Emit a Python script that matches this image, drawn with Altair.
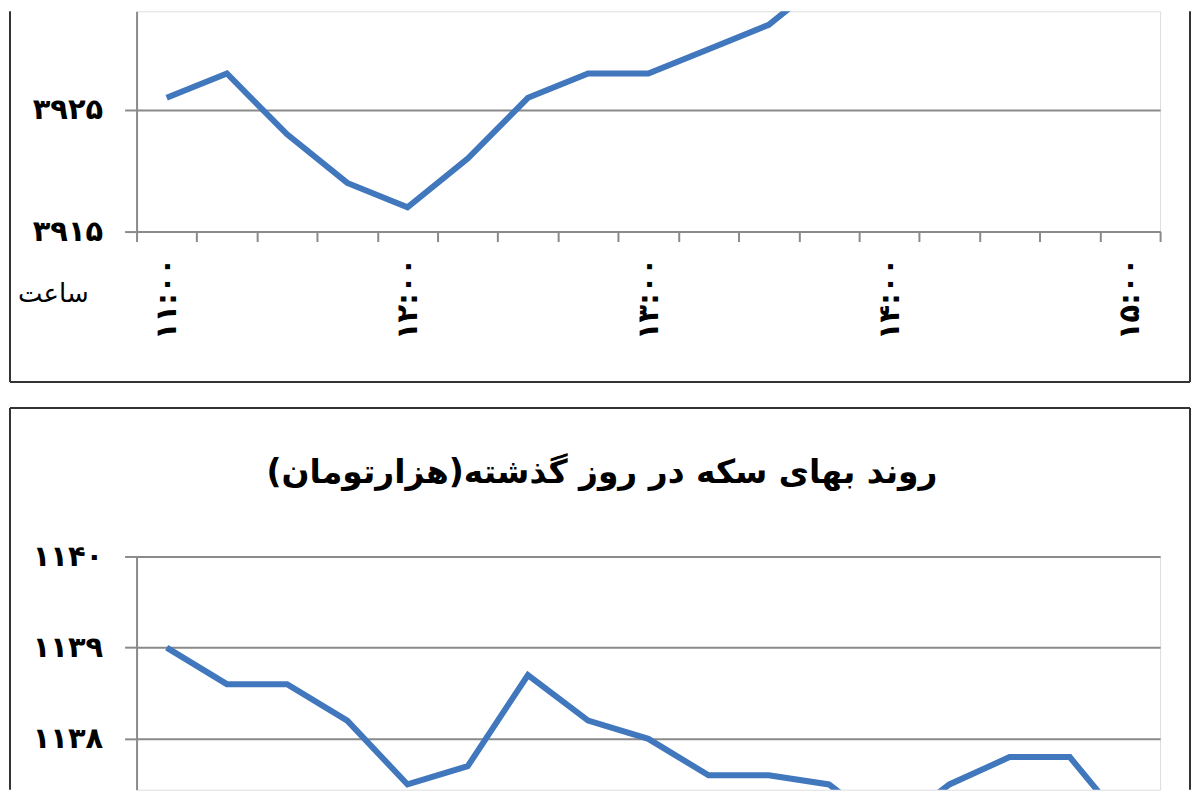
import altair as alt
import pandas as pd

# ---- data ----
times = ["۱۱:۰۰", "۱۱:۱۵", "۱۱:۳۰", "۱۱:۴۵", "۱۲:۰۰", "۱۲:۱۵", "۱۲:۳۰", "۱۲:۴۵",
         "۱۳:۰۰", "۱۳:۱۵", "۱۳:۳۰", "۱۳:۴۵", "۱۴:۰۰", "۱۴:۱۵", "۱۴:۳۰", "۱۴:۴۵", "۱۵:۰۰"]
shown_times = ["۱۱:۰۰", "۱۲:۰۰", "۱۳:۰۰", "۱۴:۰۰", "۱۵:۰۰"]

top_values = [3926, 3928, 3923, 3919, 3917, 3921, 3926, 3928, 3928, 3930, 3932,
              3936, 3936, 3935, 3934, 3936, 3937]
coin_values = [1139.0, 1138.6, 1138.6, 1138.2, 1137.5, 1137.7, 1138.7, 1138.2, 1138.0,
               1137.6, 1137.6, 1137.5, 1137.0, 1137.5, 1137.8, 1137.8, 1137.0]

top_ticks = [3915, 3925]
top_tick_labels = ["۳۹۱۵", "۳۹۲۵"]
coin_ticks = [1138, 1139, 1140]
coin_tick_labels = ["۱۱۳۸", "۱۱۳۹", "۱۱۴۰"]

coin_title = "روند بهای سکه در روز گذشته(هزارتومان)"
x_title = "ساعت"

# ---- styling ----
FONT = "DejaVu Sans"
GRAY = "#8a8a8a"
LINE = "#4177BD"
FRAME = "#333333"
W = 1027


def label_expr(ticks, labels):
    expr = "''"
    for t, l in reversed(list(zip(ticks, labels))):
        expr = f"datum.value == {t} ? '{l}' : ({expr})"
    return expr


x_label_expr = "indexof([" + ",".join(f"'{t}'" for t in shown_times) + "], datum.value) >= 0 ? datum.value : ''"


def y_axis(ticks, labels):
    return alt.Axis(values=ticks, labelExpr=label_expr(ticks, labels), title=None,
                    labelFont=FONT, labelFontSize=29, labelFontWeight="bold", labelColor="black",
                    labelPadding=22, tickSize=12, tickColor=GRAY, tickWidth=2,
                    domainColor=GRAY, domainWidth=2, grid=True, gridColor=GRAY, gridWidth=2)


def one_row():
    return pd.DataFrame({"k": [0]})


def vrule(x, y1, y2):
    return alt.Chart(one_row()).mark_rule(color=FRAME, strokeWidth=2).encode(
        x=alt.value(x), y=alt.value(y1), y2=alt.value(y2))


def hrule(x1, x2, y):
    return alt.Chart(one_row()).mark_rule(color=FRAME, strokeWidth=2).encode(
        x=alt.value(x1), x2=alt.value(x2), y=alt.value(y))


x_scale = alt.Scale(type="band", paddingInner=0, paddingOuter=0, domain=times)

# ---- top panel ----
TOP_H = 221
top_df = pd.DataFrame({"time": times, "value": top_values})
top_line = alt.Chart(top_df).mark_line(color=LINE, strokeWidth=6, clip=True).encode(
    x=alt.X("time:O", scale=x_scale, bandPosition=0.5, sort=times,
            axis=alt.Axis(title=x_title, titleX=-84, titleY=62, titleAlign="center",
                          titleBaseline="middle", titleAngle=0, titleFont=FONT, titleFontSize=26,
                          titleFontWeight="normal", titleColor="black",
                          labelAngle=270, labelFont=FONT, labelFontSize=29, labelFontWeight="bold",
                          labelColor="black", labelPadding=16, labelExpr=x_label_expr,
                          labelOverlap=False, tickBand="extent", tickSize=10, tickColor=GRAY,
                          tickWidth=2, domainColor=GRAY, domainWidth=2, grid=False)),
    y=alt.Y("value:Q", scale=alt.Scale(domain=[3915, 3915 + TOP_H / 12.2], nice=False, zero=False),
            axis=y_axis(top_ticks, top_tick_labels)),
)
top = alt.layer(
    top_line,
    vrule(-127, 0, 372),
    vrule(1057, 0, 372),
    hrule(-127, 1057, 372),
).properties(width=W, height=TOP_H)

# ---- bottom panel ----
BOT_H = 234
coin_df = pd.DataFrame({"time": times, "value": coin_values})
coin_line = alt.Chart(coin_df).mark_line(color=LINE, strokeWidth=6, clip=True).encode(
    x=alt.X("time:O", scale=x_scale, bandPosition=0.5, sort=times, axis=None),
    y=alt.Y("value:Q", scale=alt.Scale(domain=[1140 - BOT_H / 91.5, 1140], nice=False, zero=False),
            axis=y_axis(coin_ticks, coin_tick_labels)),
)
title_text = alt.Chart(pd.DataFrame({"t": [coin_title]})).mark_text(
    font=FONT, fontSize=33, fontWeight="bold", color="black", align="center",
    baseline="middle", dir="rtl").encode(text="t:N", x=alt.value(467), y=alt.value(-84))
bottom = alt.layer(
    coin_line,
    title_text,
    hrule(-127, 1057, -149),
    vrule(-127, -149, BOT_H),
    vrule(1057, -149, BOT_H),
).properties(width=W, height=BOT_H)

chart = alt.vconcat(top, bottom, spacing=22).properties(padding=0).configure_view(
    stroke=None).configure(background="white")

chart.save("out.html", embed_options={"renderer": "svg", "actions": False})
